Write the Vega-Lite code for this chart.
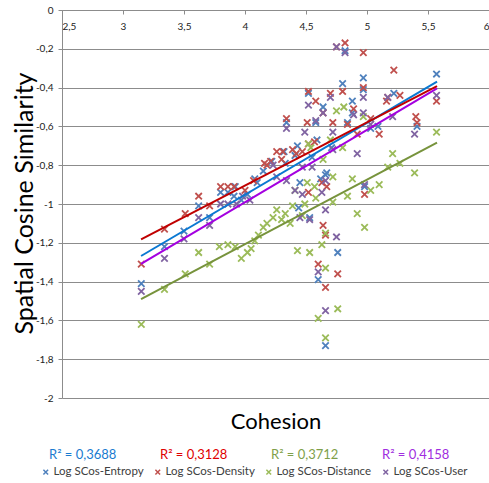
{
  "$schema": "https://vega.github.io/schema/vega-lite/v6.json",
  "width": 427,
  "height": 388,
  "autosize": {"type": "none"},
  "padding": {"left": 62, "top": 10, "right": 0, "bottom": 85},
  "config": {"font": "Lato", "view": {"stroke": null}},
  "datasets": {
    "points": [
      {"series":"Log SCos-Entropy","cohesion":3.15,"similarity":-1.41},
      {"series":"Log SCos-Entropy","cohesion":3.34,"similarity":-1.22},
      {"series":"Log SCos-Entropy","cohesion":3.50,"similarity":-1.14},
      {"series":"Log SCos-Entropy","cohesion":3.62,"similarity":-1.01},
      {"series":"Log SCos-Entropy","cohesion":3.71,"similarity":-1.07},
      {"series":"Log SCos-Entropy","cohesion":3.80,"similarity":-0.94},
      {"series":"Log SCos-Entropy","cohesion":3.86,"similarity":-0.94},
      {"series":"Log SCos-Entropy","cohesion":3.91,"similarity":-0.96},
      {"series":"Log SCos-Entropy","cohesion":3.92,"similarity":-0.91},
      {"series":"Log SCos-Entropy","cohesion":3.97,"similarity":-0.98},
      {"series":"Log SCos-Entropy","cohesion":4.02,"similarity":-0.95},
      {"series":"Log SCos-Entropy","cohesion":4.08,"similarity":-0.87},
      {"series":"Log SCos-Entropy","cohesion":4.10,"similarity":-0.89},
      {"series":"Log SCos-Entropy","cohesion":4.15,"similarity":-0.83},
      {"series":"Log SCos-Entropy","cohesion":4.22,"similarity":-0.78},
      {"series":"Log SCos-Entropy","cohesion":4.32,"similarity":-0.73},
      {"series":"Log SCos-Entropy","cohesion":4.33,"similarity":-0.79},
      {"series":"Log SCos-Entropy","cohesion":4.34,"similarity":-0.58},
      {"series":"Log SCos-Entropy","cohesion":4.41,"similarity":-0.75},
      {"series":"Log SCos-Entropy","cohesion":4.43,"similarity":-0.70},
      {"series":"Log SCos-Entropy","cohesion":4.44,"similarity":-1.02},
      {"series":"Log SCos-Entropy","cohesion":4.45,"similarity":-0.89},
      {"series":"Log SCos-Entropy","cohesion":4.52,"similarity":-0.43},
      {"series":"Log SCos-Entropy","cohesion":4.53,"similarity":-1.07},
      {"series":"Log SCos-Entropy","cohesion":4.55,"similarity":-0.76},
      {"series":"Log SCos-Entropy","cohesion":4.58,"similarity":-0.58},
      {"series":"Log SCos-Entropy","cohesion":4.59,"similarity":-0.67},
      {"series":"Log SCos-Entropy","cohesion":4.60,"similarity":-1.39},
      {"series":"Log SCos-Entropy","cohesion":4.62,"similarity":-0.87},
      {"series":"Log SCos-Entropy","cohesion":4.64,"similarity":-0.50},
      {"series":"Log SCos-Entropy","cohesion":4.66,"similarity":-0.85},
      {"series":"Log SCos-Entropy","cohesion":4.66,"similarity":-1.73},
      {"series":"Log SCos-Entropy","cohesion":4.67,"similarity":-0.84},
      {"series":"Log SCos-Entropy","cohesion":4.71,"similarity":-0.71},
      {"series":"Log SCos-Entropy","cohesion":4.76,"similarity":-1.25},
      {"series":"Log SCos-Entropy","cohesion":4.80,"similarity":-0.38},
      {"series":"Log SCos-Entropy","cohesion":4.82,"similarity":-0.21},
      {"series":"Log SCos-Entropy","cohesion":4.84,"similarity":-0.58},
      {"series":"Log SCos-Entropy","cohesion":4.88,"similarity":-0.47},
      {"series":"Log SCos-Entropy","cohesion":4.88,"similarity":-0.53},
      {"series":"Log SCos-Entropy","cohesion":4.97,"similarity":-0.35},
      {"series":"Log SCos-Entropy","cohesion":4.97,"similarity":-0.41},
      {"series":"Log SCos-Entropy","cohesion":4.98,"similarity":-0.91},
      {"series":"Log SCos-Entropy","cohesion":5.03,"similarity":-0.61},
      {"series":"Log SCos-Entropy","cohesion":5.09,"similarity":-0.60},
      {"series":"Log SCos-Entropy","cohesion":5.22,"similarity":-0.43},
      {"series":"Log SCos-Entropy","cohesion":5.41,"similarity":-0.60},
      {"series":"Log SCos-Entropy","cohesion":5.57,"similarity":-0.33},

      {"series":"Log SCos-Density","cohesion":3.15,"similarity":-1.31},
      {"series":"Log SCos-Density","cohesion":3.34,"similarity":-1.13},
      {"series":"Log SCos-Density","cohesion":3.51,"similarity":-1.05},
      {"series":"Log SCos-Density","cohesion":3.62,"similarity":-0.96},
      {"series":"Log SCos-Density","cohesion":3.71,"similarity":-1.01},
      {"series":"Log SCos-Density","cohesion":3.80,"similarity":-0.91},
      {"series":"Log SCos-Density","cohesion":3.86,"similarity":-0.91},
      {"series":"Log SCos-Density","cohesion":3.91,"similarity":-0.91},
      {"series":"Log SCos-Density","cohesion":4.00,"similarity":-0.93},
      {"series":"Log SCos-Density","cohesion":4.07,"similarity":-0.88},
      {"series":"Log SCos-Density","cohesion":4.16,"similarity":-0.79},
      {"series":"Log SCos-Density","cohesion":4.18,"similarity":-0.80},
      {"series":"Log SCos-Density","cohesion":4.21,"similarity":-0.78},
      {"series":"Log SCos-Density","cohesion":4.26,"similarity":-0.73},
      {"series":"Log SCos-Density","cohesion":4.30,"similarity":-0.77},
      {"series":"Log SCos-Density","cohesion":4.31,"similarity":-0.73},
      {"series":"Log SCos-Density","cohesion":4.34,"similarity":-0.56},
      {"series":"Log SCos-Density","cohesion":4.39,"similarity":-0.72},
      {"series":"Log SCos-Density","cohesion":4.42,"similarity":-0.74},
      {"series":"Log SCos-Density","cohesion":4.47,"similarity":-0.73},
      {"series":"Log SCos-Density","cohesion":4.51,"similarity":-0.58},
      {"series":"Log SCos-Density","cohesion":4.52,"similarity":-0.42},
      {"series":"Log SCos-Density","cohesion":4.52,"similarity":-0.69},
      {"series":"Log SCos-Density","cohesion":4.52,"similarity":-0.94},
      {"series":"Log SCos-Density","cohesion":4.57,"similarity":-0.68},
      {"series":"Log SCos-Density","cohesion":4.58,"similarity":-0.47},
      {"series":"Log SCos-Density","cohesion":4.60,"similarity":-1.31},
      {"series":"Log SCos-Density","cohesion":4.63,"similarity":-0.89},
      {"series":"Log SCos-Density","cohesion":4.64,"similarity":-0.53},
      {"series":"Log SCos-Density","cohesion":4.64,"similarity":-1.11},
      {"series":"Log SCos-Density","cohesion":4.66,"similarity":-1.16},
      {"series":"Log SCos-Density","cohesion":4.66,"similarity":-1.43},
      {"series":"Log SCos-Density","cohesion":4.67,"similarity":-0.91},
      {"series":"Log SCos-Density","cohesion":4.70,"similarity":-0.43},
      {"series":"Log SCos-Density","cohesion":4.72,"similarity":-0.58},
      {"series":"Log SCos-Density","cohesion":4.75,"similarity":-0.19},
      {"series":"Log SCos-Density","cohesion":4.76,"similarity":-1.36},
      {"series":"Log SCos-Density","cohesion":4.80,"similarity":-0.42},
      {"series":"Log SCos-Density","cohesion":4.82,"similarity":-0.17},
      {"series":"Log SCos-Density","cohesion":4.84,"similarity":-0.59},
      {"series":"Log SCos-Density","cohesion":4.89,"similarity":-0.51},
      {"series":"Log SCos-Density","cohesion":4.92,"similarity":-0.64},
      {"series":"Log SCos-Density","cohesion":4.97,"similarity":-0.22},
      {"series":"Log SCos-Density","cohesion":4.97,"similarity":-0.40},
      {"series":"Log SCos-Density","cohesion":4.98,"similarity":-0.95},
      {"series":"Log SCos-Density","cohesion":5.03,"similarity":-0.56},
      {"series":"Log SCos-Density","cohesion":5.10,"similarity":-0.64},
      {"series":"Log SCos-Density","cohesion":5.16,"similarity":-0.47},
      {"series":"Log SCos-Density","cohesion":5.17,"similarity":-0.45},
      {"series":"Log SCos-Density","cohesion":5.22,"similarity":-0.31},
      {"series":"Log SCos-Density","cohesion":5.27,"similarity":-0.44},
      {"series":"Log SCos-Density","cohesion":5.40,"similarity":-0.55},
      {"series":"Log SCos-Density","cohesion":5.41,"similarity":-0.58},
      {"series":"Log SCos-Density","cohesion":5.57,"similarity":-0.47},

      {"series":"Log SCos-Distance","cohesion":3.15,"similarity":-1.62},
      {"series":"Log SCos-Distance","cohesion":3.34,"similarity":-1.44},
      {"series":"Log SCos-Distance","cohesion":3.51,"similarity":-1.36},
      {"series":"Log SCos-Distance","cohesion":3.62,"similarity":-1.25},
      {"series":"Log SCos-Distance","cohesion":3.71,"similarity":-1.31},
      {"series":"Log SCos-Distance","cohesion":3.79,"similarity":-1.22},
      {"series":"Log SCos-Distance","cohesion":3.86,"similarity":-1.21},
      {"series":"Log SCos-Distance","cohesion":3.92,"similarity":-1.22},
      {"series":"Log SCos-Distance","cohesion":3.97,"similarity":-1.28},
      {"series":"Log SCos-Distance","cohesion":4.02,"similarity":-1.25},
      {"series":"Log SCos-Distance","cohesion":4.05,"similarity":-1.23},
      {"series":"Log SCos-Distance","cohesion":4.08,"similarity":-1.19},
      {"series":"Log SCos-Distance","cohesion":4.11,"similarity":-1.16},
      {"series":"Log SCos-Distance","cohesion":4.15,"similarity":-1.12},
      {"series":"Log SCos-Distance","cohesion":4.18,"similarity":-1.10},
      {"series":"Log SCos-Distance","cohesion":4.23,"similarity":-1.07},
      {"series":"Log SCos-Distance","cohesion":4.26,"similarity":-1.03},
      {"series":"Log SCos-Distance","cohesion":4.30,"similarity":-1.08},
      {"series":"Log SCos-Distance","cohesion":4.33,"similarity":-1.05},
      {"series":"Log SCos-Distance","cohesion":4.37,"similarity":-1.10},
      {"series":"Log SCos-Distance","cohesion":4.39,"similarity":-1.01},
      {"series":"Log SCos-Distance","cohesion":4.41,"similarity":-0.93},
      {"series":"Log SCos-Distance","cohesion":4.43,"similarity":-1.24},
      {"series":"Log SCos-Distance","cohesion":4.47,"similarity":-1.06},
      {"series":"Log SCos-Distance","cohesion":4.49,"similarity":-1.00},
      {"series":"Log SCos-Distance","cohesion":4.51,"similarity":-0.89},
      {"series":"Log SCos-Distance","cohesion":4.52,"similarity":-0.69},
      {"series":"Log SCos-Distance","cohesion":4.53,"similarity":-1.25},
      {"series":"Log SCos-Distance","cohesion":4.54,"similarity":-0.71},
      {"series":"Log SCos-Distance","cohesion":4.57,"similarity":-0.91},
      {"series":"Log SCos-Distance","cohesion":4.58,"similarity":-0.97},
      {"series":"Log SCos-Distance","cohesion":4.60,"similarity":-1.59},
      {"series":"Log SCos-Distance","cohesion":4.63,"similarity":-1.21},
      {"series":"Log SCos-Distance","cohesion":4.64,"similarity":-0.77},
      {"series":"Log SCos-Distance","cohesion":4.66,"similarity":-1.33},
      {"series":"Log SCos-Distance","cohesion":4.66,"similarity":-1.15},
      {"series":"Log SCos-Distance","cohesion":4.66,"similarity":-1.69},
      {"series":"Log SCos-Distance","cohesion":4.70,"similarity":-0.67},
      {"series":"Log SCos-Distance","cohesion":4.72,"similarity":-0.86},
      {"series":"Log SCos-Distance","cohesion":4.72,"similarity":-0.99},
      {"series":"Log SCos-Distance","cohesion":4.75,"similarity":-0.52},
      {"series":"Log SCos-Distance","cohesion":4.76,"similarity":-1.54},
      {"series":"Log SCos-Distance","cohesion":4.80,"similarity":-0.71},
      {"series":"Log SCos-Distance","cohesion":4.81,"similarity":-0.50},
      {"series":"Log SCos-Distance","cohesion":4.84,"similarity":-0.96},
      {"series":"Log SCos-Distance","cohesion":4.88,"similarity":-0.87},
      {"series":"Log SCos-Distance","cohesion":4.92,"similarity":-1.05},
      {"series":"Log SCos-Distance","cohesion":4.97,"similarity":-0.55},
      {"series":"Log SCos-Distance","cohesion":4.98,"similarity":-1.12},
      {"series":"Log SCos-Distance","cohesion":5.03,"similarity":-0.93},
      {"series":"Log SCos-Distance","cohesion":5.10,"similarity":-0.90},
      {"series":"Log SCos-Distance","cohesion":5.17,"similarity":-0.81},
      {"series":"Log SCos-Distance","cohesion":5.21,"similarity":-0.74},
      {"series":"Log SCos-Distance","cohesion":5.27,"similarity":-0.79},
      {"series":"Log SCos-Distance","cohesion":5.39,"similarity":-0.84},
      {"series":"Log SCos-Distance","cohesion":5.57,"similarity":-0.63},

      {"series":"Log SCos-User","cohesion":3.15,"similarity":-1.45},
      {"series":"Log SCos-User","cohesion":3.34,"similarity":-1.28},
      {"series":"Log SCos-User","cohesion":3.50,"similarity":-1.18},
      {"series":"Log SCos-User","cohesion":3.62,"similarity":-1.07},
      {"series":"Log SCos-User","cohesion":3.71,"similarity":-1.11},
      {"series":"Log SCos-User","cohesion":3.80,"similarity":-1.00},
      {"series":"Log SCos-User","cohesion":3.86,"similarity":-1.00},
      {"series":"Log SCos-User","cohesion":3.93,"similarity":-1.00},
      {"series":"Log SCos-User","cohesion":3.98,"similarity":-0.96},
      {"series":"Log SCos-User","cohesion":4.04,"similarity":-0.98},
      {"series":"Log SCos-User","cohesion":4.23,"similarity":-0.80},
      {"series":"Log SCos-User","cohesion":4.26,"similarity":-0.86},
      {"series":"Log SCos-User","cohesion":4.34,"similarity":-0.88},
      {"series":"Log SCos-User","cohesion":4.34,"similarity":-0.61},
      {"series":"Log SCos-User","cohesion":4.41,"similarity":-0.93},
      {"series":"Log SCos-User","cohesion":4.45,"similarity":-1.07},
      {"series":"Log SCos-User","cohesion":4.47,"similarity":-0.81},
      {"series":"Log SCos-User","cohesion":4.47,"similarity":-0.95},
      {"series":"Log SCos-User","cohesion":4.49,"similarity":-0.63},
      {"series":"Log SCos-User","cohesion":4.52,"similarity":-0.49},
      {"series":"Log SCos-User","cohesion":4.53,"similarity":-1.08},
      {"series":"Log SCos-User","cohesion":4.55,"similarity":-0.81},
      {"series":"Log SCos-User","cohesion":4.58,"similarity":-0.57},
      {"series":"Log SCos-User","cohesion":4.60,"similarity":-1.35},
      {"series":"Log SCos-User","cohesion":4.63,"similarity":-0.94},
      {"series":"Log SCos-User","cohesion":4.64,"similarity":-0.53},
      {"series":"Log SCos-User","cohesion":4.66,"similarity":-1.03},
      {"series":"Log SCos-User","cohesion":4.66,"similarity":-0.88},
      {"series":"Log SCos-User","cohesion":4.66,"similarity":-1.55},
      {"series":"Log SCos-User","cohesion":4.70,"similarity":-0.45},
      {"series":"Log SCos-User","cohesion":4.72,"similarity":-0.63},
      {"series":"Log SCos-User","cohesion":4.72,"similarity":-0.72},
      {"series":"Log SCos-User","cohesion":4.75,"similarity":-0.19},
      {"series":"Log SCos-User","cohesion":4.75,"similarity":-1.17},
      {"series":"Log SCos-User","cohesion":4.82,"similarity":-0.22},
      {"series":"Log SCos-User","cohesion":4.89,"similarity":-0.54},
      {"series":"Log SCos-User","cohesion":4.92,"similarity":-0.74},
      {"series":"Log SCos-User","cohesion":4.97,"similarity":-0.45},
      {"series":"Log SCos-User","cohesion":4.97,"similarity":-0.53},
      {"series":"Log SCos-User","cohesion":4.98,"similarity":-0.90},
      {"series":"Log SCos-User","cohesion":5.03,"similarity":-0.59},
      {"series":"Log SCos-User","cohesion":5.17,"similarity":-0.45},
      {"series":"Log SCos-User","cohesion":5.21,"similarity":-0.55},
      {"series":"Log SCos-User","cohesion":5.39,"similarity":-0.64},
      {"series":"Log SCos-User","cohesion":5.57,"similarity":-0.44}
    ],
    "trends": [
      {"series":"Log SCos-Entropy","r2":"R² = 0,3688","cohesion":3.148,"similarity":-1.268},
      {"series":"Log SCos-Entropy","r2":"R² = 0,3688","cohesion":5.574,"similarity":-0.369},
      {"series":"Log SCos-Density","r2":"R² = 0,3128","cohesion":3.148,"similarity":-1.182},
      {"series":"Log SCos-Density","r2":"R² = 0,3128","cohesion":5.574,"similarity":-0.392},
      {"series":"Log SCos-Distance","r2":"R² = 0,3712","cohesion":3.148,"similarity":-1.49},
      {"series":"Log SCos-Distance","r2":"R² = 0,3712","cohesion":5.574,"similarity":-0.684},
      {"series":"Log SCos-User","r2":"R² = 0,4158","cohesion":3.148,"similarity":-1.309},
      {"series":"Log SCos-User","r2":"R² = 0,4158","cohesion":5.574,"similarity":-0.404}
    ]
  },
  "encoding": {
    "x": {
      "field": "cohesion", "type": "quantitative",
      "scale": {"domain": [2.5, 6], "nice": false, "zero": false},
      "axis": {
        "orient": "bottom", "offset": -388,
        "values": [2.5, 3, 3.5, 4, 4.5, 5, 5.5, 6],
        "labelExpr": "replace(format(datum.value, '~g'), '.', ',')",
        "grid": false, "domainColor": "#8c8c8c", "tickColor": "#8c8c8c", "tickSize": 4,
        "labelFontSize": 10, "labelColor": "#222222", "labelPadding": 7, "labelFont": "Lato",
        "title": "Cohesion", "titleFont": "Lato", "titleFontSize": 22, "titleFontWeight": "normal",
        "titleColor": "#000000", "titleY": 418, "titleBaseline": "alphabetic"
      }
    },
    "y": {
      "field": "similarity", "type": "quantitative",
      "scale": {"domain": [-2, 0], "nice": false, "zero": false},
      "axis": {
        "values": [0, -0.2, -0.4, -0.6, -0.8, -1, -1.2, -1.4, -1.6, -1.8, -2],
        "labelExpr": "replace(replace(format(datum.value, '~g'), '.', ','), '\u2212', '-')",
        "grid": true, "gridColor": "#8c8c8c", "gridWidth": 1,
        "domainColor": "#8c8c8c", "tickColor": "#8c8c8c", "tickSize": 4,
        "labelFontSize": 10, "labelColor": "#222222", "labelPadding": 5, "labelFont": "Lato",
        "title": "Spatial Cosine Similarity", "titleFont": "Lato", "titleFontSize": 25,
        "titleFontWeight": "normal", "titleColor": "#000000",
        "titleX": -30, "titleY": 193, "titleBaseline": "alphabetic", "titleAlign": "center", "titleAngle": -90
      }
    }
  },
  "layer": [
    {
      "data": {"name": "points"},
      "mark": {"type": "point", "shape": "M-1,-1L1,1M-1,1L1,-1", "filled": false, "size": 42, "strokeWidth": 1.8, "opacity": 1},
      "encoding": {
        "color": {
          "field": "series", "type": "nominal",
          "scale": {
            "domain": ["Log SCos-Entropy", "Log SCos-Density", "Log SCos-Distance", "Log SCos-User"],
            "range": ["#4f81bd", "#c0504d", "#9bbb59", "#8064a2"]
          },
          "legend": {
            "orient": "none", "legendX": -22, "legendY": 456, "direction": "horizontal",
            "title": null, "labelFont": "Lato", "labelFontSize": 11.5, "labelColor": "#404040",
            "symbolType": "M-1,-1L1,1M-1,1L1,-1", "symbolSize": 22, "symbolStrokeWidth": 1.5,
            "labelOffset": 2, "columnPadding": 8
          }
        }
      }
    },
    {
      "data": {"name": "trends"},
      "mark": {"type": "line", "strokeWidth": 2},
      "encoding": {
        "detail": {"field": "series"},
        "stroke": {
          "field": "series", "type": "nominal",
          "scale": {
            "domain": ["Log SCos-Entropy", "Log SCos-Density", "Log SCos-Distance", "Log SCos-User"],
            "range": ["#0a78d2", "#c00000", "#77933c", "#a400e0"]
          },
          "legend": null
        },
        "opacity": {
          "field": "r2", "type": "ordinal",
          "scale": {
            "domain": ["R² = 0,3688", "R² = 0,3128", "R² = 0,3712", "R² = 0,4158"],
            "range": [1, 1, 1, 1]
          },
          "legend": {
            "orient": "none", "legendX": -26, "legendY": 438, "direction": "horizontal",
            "title": null, "labelFont": "Lato", "labelFontSize": 13,
            "symbolSize": 0, "symbolOpacity": 0, "symbolStrokeWidth": 0,
            "labelOffset": 0, "columnPadding": 30,
            "encode": {
              "labels": {
                "update": {
                  "fill": {"signal": "['#1a7bd0', '#e00000', '#7f9f4a', '#a02de0'][indexof(['R² = 0,3688', 'R² = 0,3128', 'R² = 0,3712', 'R² = 0,4158'], datum.value)]"}
                }
              }
            }
          }
        }
      }
    }
  ]
}
